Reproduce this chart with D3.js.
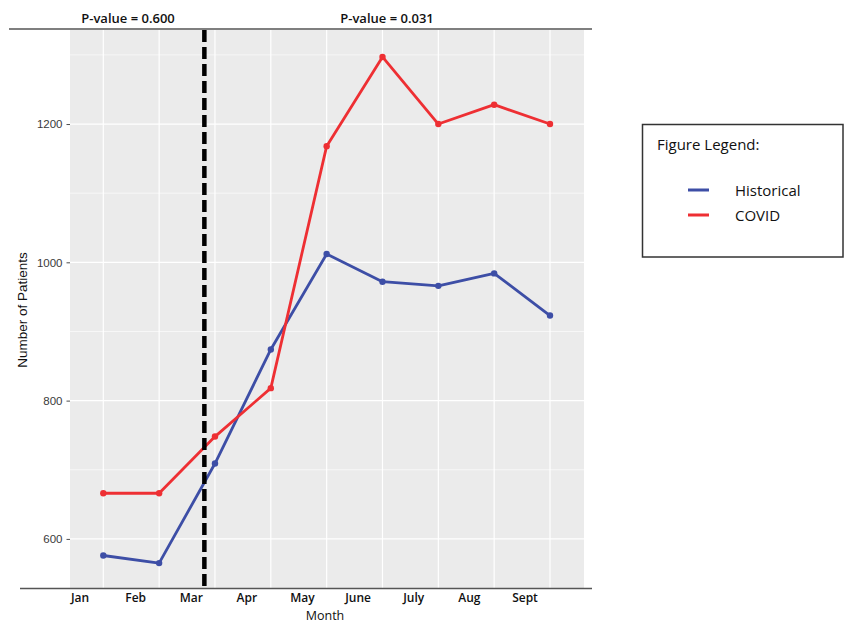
<!DOCTYPE html>
<html>
<head>
<meta charset="utf-8">
<script src="https://cdn.jsdelivr.net/npm/d3@7/dist/d3.min.js"></script>
<style>
  html, body { margin: 0; padding: 0; background: #fff; }
  svg { display: block; }
</style>
</head>
<body>
<svg id="chart" width="845" height="622"></svg>
<script>
// ---- data ----
const monthLabels = ["Jan", "Feb", "Mar", "Apr", "May", "June", "July", "Aug", "Sept"];
const pointIndex = [1, 2, 3, 4, 5, 6, 7, 8, 9];
const historical = [576, 565, 709, 874, 1012, 972, 966, 984, 923];
const covid = [666, 666, 748, 818, 1168, 1297, 1200, 1228, 1200];
const yTicks = [600, 800, 1000, 1200];
const yMinorTicks = [700, 900, 1100, 1300];
const cutoffIndex = 2.81;
const pValueLabels = ["P-value = 0.600", "P-value = 0.031"];
const seriesNames = ["Historical", "COVID"];

// ---- layout ----
const svg = d3.select("#chart");
const panel = { left: 70, right: 584, top: 30, bottom: 588 };
const blue = "#3d4ea6";
const red = "#ee2f33";

const x = d3.scaleLinear().domain([1, 9]).range([103.3, 550]);
const y = d3.scaleLinear().domain([529, 1336]).range([panel.bottom, panel.top]);
const xLabel = d3.scalePoint().domain(monthLabels).range([80, 525]);
const pvX = d3.scalePoint().domain(pValueLabels).range([128, 387]);

// panel background
svg.append("rect")
  .attr("x", panel.left).attr("y", panel.top)
  .attr("width", panel.right - panel.left).attr("height", panel.bottom - panel.top)
  .attr("fill", "#ebebeb");

// minor horizontal grid
svg.append("g").selectAll("line").data(yMinorTicks).join("line")
  .attr("x1", panel.left).attr("x2", panel.right)
  .attr("y1", d => y(d)).attr("y2", d => y(d))
  .attr("stroke", "#fff").attr("stroke-width", 0.6);

// major horizontal grid
svg.append("g").selectAll("line").data(yTicks).join("line")
  .attr("x1", panel.left).attr("x2", panel.right)
  .attr("y1", d => y(d)).attr("y2", d => y(d))
  .attr("stroke", "#fff").attr("stroke-width", 1.2);

// vertical grid
svg.append("g").selectAll("line").data(pointIndex).join("line")
  .attr("x1", d => x(d)).attr("x2", d => x(d))
  .attr("y1", panel.top).attr("y2", panel.bottom)
  .attr("stroke", "#fff").attr("stroke-width", 1.2);

// y axis
const yAxis = svg.append("g")
  .attr("transform", `translate(${panel.left},0)`)
  .call(d3.axisLeft(y).tickValues(yTicks).tickFormat(d3.format("d")).tickSize(3.5).tickPadding(4));
yAxis.select(".domain").remove();
yAxis.selectAll(".tick line").attr("stroke", "#4d4d4d").attr("stroke-width", 1);
yAxis.selectAll(".tick text")
  .attr("fill", "#3a3a3a")
  .style("font-family", "'Liberation Sans', Arial, sans-serif")
  .style("font-size", "11.5px");

// y title
svg.append("text")
  .attr("transform", `translate(27,310) rotate(-90)`)
  .attr("text-anchor", "middle")
  .style("font-family", "'Liberation Sans', Arial, sans-serif")
  .style("font-size", "13.5px")
  .attr("fill", "#111")
  .text("Number of Patients");

// lines
const line = d3.line().x((d, i) => x(pointIndex[i])).y(d => y(d));
[[historical, blue], [covid, red]].forEach(([vals, col]) => {
  svg.append("path").datum(vals)
    .attr("d", line).attr("fill", "none")
    .attr("stroke", col).attr("stroke-width", 2.8)
    .attr("stroke-linejoin", "round");
  svg.append("g").selectAll("circle").data(vals).join("circle")
    .attr("cx", (d, i) => x(pointIndex[i])).attr("cy", d => y(d))
    .attr("r", 3.2).attr("fill", col);
});

// dashed cutoff line
svg.append("line")
  .attr("x1", x(cutoffIndex)).attr("x2", x(cutoffIndex))
  .attr("y1", panel.top).attr("y2", panel.bottom + 2)
  .attr("stroke", "#000").attr("stroke-width", 4.5)
  .attr("stroke-dasharray", "12,5");

// top and bottom rule lines
svg.append("line").attr("x1", 9).attr("x2", 592).attr("y1", 29).attr("y2", 29)
  .attr("stroke", "#555").attr("stroke-width", 1.5);
svg.append("line").attr("x1", 20).attr("x2", 592).attr("y1", 588.5).attr("y2", 588.5)
  .attr("stroke", "#555").attr("stroke-width", 1.5);

// p-value labels
svg.append("g").selectAll("text").data(pValueLabels).join("text")
  .attr("x", d => pvX(d))
  .attr("y", 23)
  .attr("text-anchor", "middle")
  .style("font-family", "'Open Sans', sans-serif")
  .style("font-size", "13px")
  .style("font-weight", "600")
  .attr("fill", "#111")
  .text(d => d);

// month labels
svg.append("g").selectAll("text").data(monthLabels).join("text")
  .attr("x", d => xLabel(d)).attr("y", 602)
  .attr("text-anchor", "middle")
  .style("font-family", "'Open Sans', sans-serif")
  .style("font-size", "12px")
  .style("font-weight", "600")
  .attr("fill", "#111")
  .text(d => d);

svg.append("text")
  .attr("x", 325).attr("y", 619.5)
  .attr("text-anchor", "middle")
  .style("font-family", "'Open Sans', sans-serif")
  .style("font-size", "12.5px")
  .attr("fill", "#111")
  .text("Month");

// legend
const lg = svg.append("g");
lg.append("rect").attr("x", 642.5).attr("y", 124.5).attr("width", 200.5).attr("height", 132.5)
  .attr("fill", "#fff").attr("stroke", "#333").attr("stroke-width", 1.5);
lg.append("text").attr("x", 657).attr("y", 150)
  .style("font-family", "'Open Sans', sans-serif").style("font-size", "15px")
  .attr("fill", "#111").text("Figure Legend:");
const legendY = d3.scalePoint().domain(seriesNames).range([190, 215]);
const legendColor = d3.scaleOrdinal().domain(seriesNames).range([blue, red]);
seriesNames.forEach(n => {
  lg.append("line").attr("x1", 688).attr("x2", 709)
    .attr("y1", legendY(n)).attr("y2", legendY(n))
    .attr("stroke", legendColor(n)).attr("stroke-width", 3);
  lg.append("text").attr("x", 735).attr("y", legendY(n) + 5.5)
    .style("font-family", "'Open Sans', sans-serif").style("font-size", "15px")
    .attr("fill", "#111").text(n);
});
</script>
</body>
</html>
